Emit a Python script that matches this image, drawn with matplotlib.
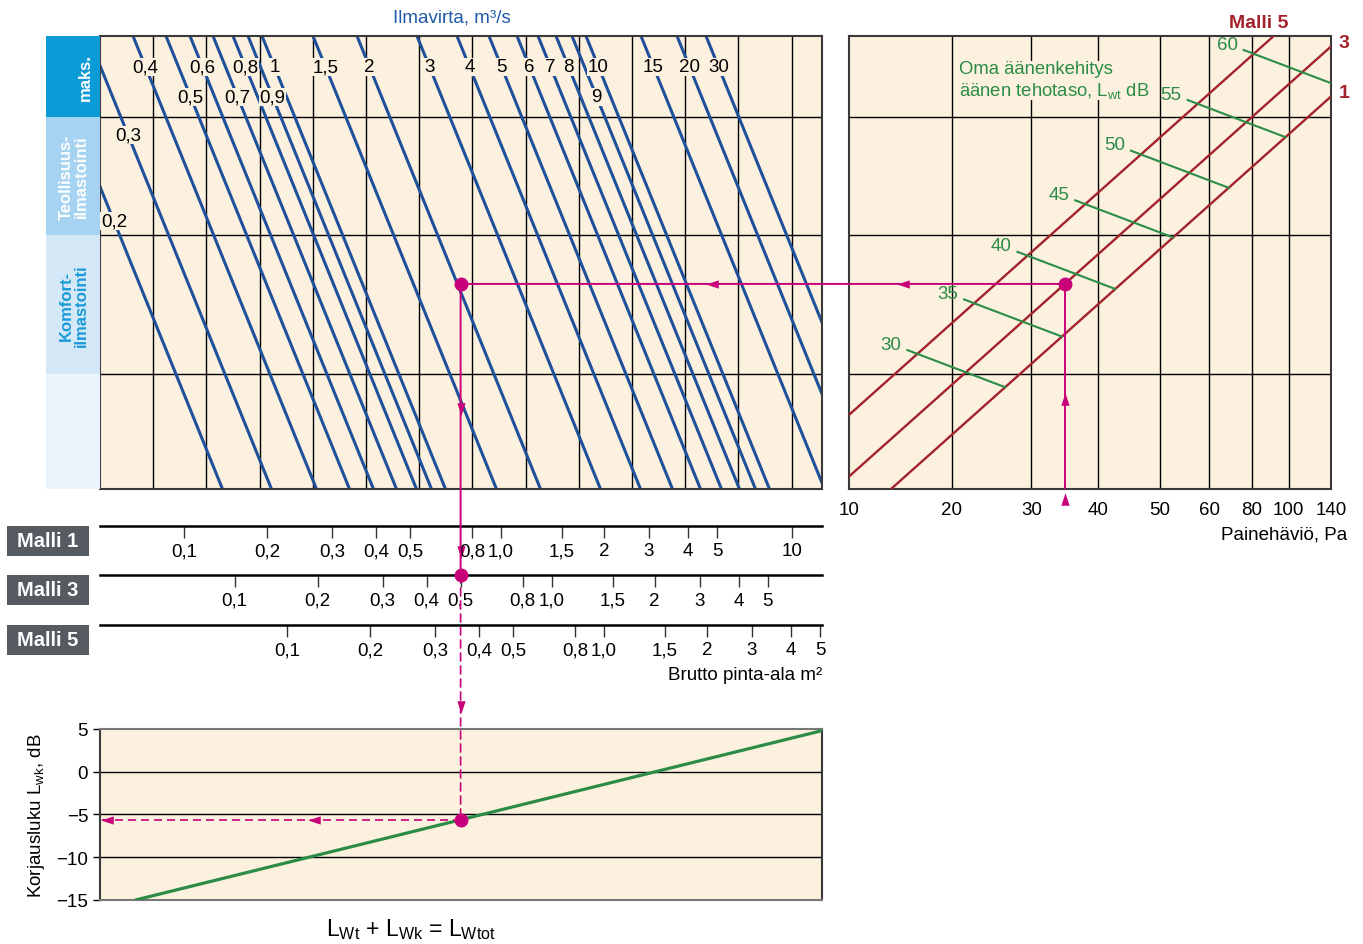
"""Nomogram: ilmavirta, painehäviö ja äänitaso (ritilä / säleikkö)"""

import numpy as np
import matplotlib
matplotlib.use('Agg')
import matplotlib.pyplot as plt
from matplotlib import font_manager
from matplotlib.patches import Rectangle, ConnectionPatch

# ---------------------------------------------------------------------------
# values (positions are in the nomogram's own scale units)
# ---------------------------------------------------------------------------
# airflow lines, m3/s, and where each line meets the top edge of the panel
q_labels = ['0,2', '0,3', '0,4', '0,5', '0,6', '0,7', '0,8', '0,9', '1', '1,5', '2',
            '3', '4', '5', '6', '7', '8', '9', '10', '15', '20', '30']
q_top = [-61, -12, 33, 66, 90, 113, 133, 148, 162, 213, 257,
         317, 357, 389, 417, 438, 456, 472, 486, 541, 577, 606]

# velocity rows of the diagram (bottom -> top)
row_edges = [0, 115, 254, 372, 453]
row_names = ['', 'Komfort-\nilmastointi', 'Teollisuus-\nilmastointi', 'maks.']

# gross area scales (m2); Malli 3 and 5 are the Malli 1 scale moved right
area_labels = ['0,1', '0,2', '0,3', '0,4', '0,5', '0,8', '1,0', '1,5', '2', '3', '4', '5', '10']
area_pos_malli1 = [84, 167, 232, 276, 310, 372, 401, 462, 504, 549, 588, 617, 692]
malli_names = ['Malli 1', 'Malli 3', 'Malli 5']
malli_shift = [0, 50.6, 103]
malli_n_ticks = [13, 12, 12]

# pressure drop scale, Pa
dp_ticks = [10, 20, 30, 40, 50, 60, 80, 100, 140]
dp_pos = [0, 102.7, 182.3, 249, 310.3, 360, 402.7, 439.3, 481.5]
dp_line_names = ['5', '3', '1']
dp_line_x0 = [-83, -14, 42]          # where each Malli line meets the bottom edge

# own sound power level L_wt, dB, and where each line ends on the Malli 1 line
lwt_levels = [30, 35, 40, 45, 50, 55, 60]
lwt_end = [156, 212.7, 266, 323.7, 379.3, 436, 492]

# correction L_wk, dB
lwk_pos = [36.7, 728.6]
lwk_db = [-15, 5]

# worked example: 35 Pa, Malli 3, 0,5 m2
ex_dp = 35
ex_malli = 1
ex_area = '0,5'

# geometry of the families of lines
Q_SLANT = 0.405
DP_SLOPE = 0.893
LWT_SLOPE = -0.38
LWT_LEN = 97.7

# ---------------------------------------------------------------------------
installed = {f.name for f in font_manager.fontManager.ttflist}
FONT = 'Liberation Sans Narrow' if 'Liberation Sans Narrow' in installed else 'Liberation Sans'
plt.rcParams['font.family'] = [FONT, 'DejaVu Sans']
plt.rcParams['mathtext.fontset'] = 'custom'
plt.rcParams['mathtext.rm'] = FONT
plt.rcParams['mathtext.it'] = FONT + ':italic'
plt.rcParams['mathtext.bf'] = FONT + ':bold'

FS = 13.5
BG = '#fcf1de'
BLUE = '#1e509b'
TITLE_BLUE = '#1f5aa8'
RED = '#a3222b'
GREEN = '#2b8c46'
PINK = '#c8007a'
BADGE = '#555b61'
FRAME = '#3a3a3a'

W, H = 1363, 945
fig = plt.figure(figsize=(W / 100, H / 100), dpi=100)


def place(x0, y0, x1, y1):
    return fig.add_axes([x0 / W, 1 - y1 / H, (x1 - x0) / W, (y1 - y0) / H])


def panel(ax):
    ax.set_facecolor(BG)
    for s in ax.spines.values():
        s.set_color(FRAME)
        s.set_linewidth(1.5)


def arrow(ax, x, y, way):
    shapes = {'down': [(-0.33, 0.5), (0.33, 0.5), (0, -0.5)],
              'up': [(-0.33, -0.5), (0.33, -0.5), (0, 0.5)],
              'left': [(0.5, -0.33), (0.5, 0.33), (-0.5, 0)]}
    ax.plot([x], [y], marker=shapes[way], ms=9, color=PINK, mec='none',
            clip_on=False, zorder=8)


# ---- airflow panel --------------------------------------------------------
ax_q = place(100, 37, 822, 490)
panel(ax_q)
ax_q.set_xlim(0, 722)
ax_q.set_ylim(0, 453)
ax_q.set_xticks([])
ax_q.set_yticks([])
for x in np.arange(1, 14) * 53.2:
    ax_q.axvline(x, color='k', lw=1.0, zorder=1)
for y in row_edges[1:-1]:
    ax_q.axhline(y, color='k', lw=1.0, zorder=1)

low_row = {'0,5': 392, '0,7': 392, '0,9': 392, '9': 392, '0,3': 354, '0,2': 268}
for lab, t in zip(q_labels, q_top):
    ax_q.plot([t, t + Q_SLANT * 453], [453, 0], color=BLUE, lw=2.2, zorder=2,
              solid_capstyle='butt')
    y = low_row.get(lab, 422)
    ax_q.text(t + Q_SLANT * (453 - y), y, lab, ha='center', va='center', fontsize=FS,
              zorder=3, bbox=dict(fc=BG, ec='none', pad=0.6))

fig.text(452 / W, 1 - 18 / H, 'Ilmavirta, m³/s', color=TITLE_BLUE, fontsize=FS,
         ha='center', va='center')

# ---- side band ------------------------------------------------------------
ax_b = place(46, 37, 100, 490)
ax_b.set_xlim(0, 1)
ax_b.set_ylim(0, 453)
ax_b.axis('off')
band_colors = ['#e9f4fd', '#d4e8f8', '#a6d3f1', '#0b9bd7']
band_text = [None, '#1a9ad7', 'white', 'white']
for i, name in enumerate(row_names):
    ax_b.axhspan(row_edges[i], row_edges[i + 1], color=band_colors[i], lw=0)
    if name:
        ax_b.text(0.72 if i == 3 else 0.51, (row_edges[i] + row_edges[i + 1]) / 2, name,
                  rotation=90, ha='center', va='center', color=band_text[i],
                  fontsize=12, weight='bold', linespacing=1.0)

# ---- pressure drop panel --------------------------------------------------
ax_p = place(849, 37, 1331, 490)
panel(ax_p)
ax_p.set_xlim(0, 481.5)
ax_p.set_ylim(0, 453)
ax_p.set_xticks(dp_pos)
ax_p.set_xticklabels([str(v) for v in dp_ticks])
ax_p.set_yticks([])
ax_p.tick_params(axis='x', length=0, pad=9, labelsize=FS)
for x in dp_pos[1:-1]:
    ax_p.axvline(x, color='k', lw=1.0, zorder=1)
for y in row_edges[1:-1]:
    ax_p.axhline(y, color='k', lw=1.0, zorder=1)

for name, x0 in zip(dp_line_names, dp_line_x0):
    ax_p.plot([x0, x0 + 453 / DP_SLOPE], [0, 453], color=RED, lw=1.7, zorder=3)
    if name == '5':
        ax_p.text(x0 + 453 / DP_SLOPE - 15, 466, 'Malli 5', color=RED, weight='bold',
                  fontsize=14, ha='center', va='center', clip_on=False)
    else:
        y_edge = (481.5 - x0) * DP_SLOPE
        ax_p.text(489, y_edge + 4, name, color=RED, weight='bold', fontsize=14,
                  ha='left', va='center', clip_on=False)

x_m1 = dp_line_x0[2]
for lev, xe in zip(lwt_levels, lwt_end):
    ye = (xe - x_m1) * DP_SLOPE
    xs = xe - LWT_LEN
    ys = ye - LWT_SLOPE * LWT_LEN
    ax_p.plot([xs, xe], [ys, ye], color=GREEN, lw=1.5, zorder=4)
    ax_p.text(xs - 6, ys + 6, str(lev), color=GREEN, fontsize=FS, ha='right',
              va='center', zorder=6)

ax_p.text(110, 409, 'Oma äänenkehitys\näänen tehotaso, L$_{\\rm wt}$ dB', color=GREEN,
          fontsize=13.3, ha='left', va='center', linespacing=1.2, zorder=5,
          bbox=dict(fc=BG, ec='none', pad=0.2))
fig.text(1347 / W, 1 - 535 / H, 'Painehäviö, Pa', fontsize=FS, ha='right', va='center')

# ---- area scales ----------------------------------------------------------
malli_axes = []
for name, shift, n, yline in zip(malli_names, malli_shift, malli_n_ticks, [526.5, 576, 625.5]):
    ax_m = place(100, yline - 1, 822, yline)
    ax_m.set_xlim(0, 722)
    ax_m.set_ylim(0, 1)
    ax_m.patch.set_visible(False)
    for side in ['top', 'left', 'right']:
        ax_m.spines[side].set_visible(False)
    ax_m.spines['bottom'].set_linewidth(1.8)
    ax_m.set_xticks(np.array(area_pos_malli1[:n]) + shift)
    ax_m.set_xticklabels(area_labels[:n])
    ax_m.set_yticks([])
    ax_m.tick_params(axis='x', length=8.6, width=1.0, pad=3.5, labelsize=FS, color='#333333')
    fig.add_artist(Rectangle((7 / W, 1 - (yline + 30) / H), 82 / W, 30 / H,
                             transform=fig.transFigure, color=BADGE, lw=0))
    fig.text(48 / W, 1 - (yline + 15) / H, name, color='white', weight='bold',
             fontsize=14.5, ha='center', va='center')
    malli_axes.append(ax_m)

fig.text(822 / W, 1 - 676 / H, 'Brutto pinta-ala m²', fontsize=FS, ha='right', va='center')

# ---- correction panel -----------------------------------------------------
ax_k = place(100, 730, 822, 900.7)
panel(ax_k)
ax_k.spines['top'].set_color('#777777')
ax_k.spines['bottom'].set_color('#777777')
ax_k.set_xlim(0, 722)
ax_k.set_ylim(-15, 5)
ax_k.set_xticks([])
ax_k.set_yticks([5, 0, -5, -10, -15])
ax_k.tick_params(axis='y', length=5, width=1.0, pad=3.5, labelsize=FS)
for y in [0, -5, -10]:
    ax_k.axhline(y, color='k', lw=1.0, zorder=1)
ax_k.plot(lwk_pos, lwk_db, color=GREEN, lw=2.3, zorder=3)

fig.text(37 / W, 1 - 816 / H, 'Korjausluku L$_{\\rm wk}$, dB', rotation=90, fontsize=FS,
         ha='center', va='center')
fig.text(411 / W, 1 - 930 / H, 'L$_{\\rm Wt}$ + L$_{\\rm Wk}$ = L$_{\\rm Wtot}$',
         fontsize=16.5, ha='center', va='center')

# ---- worked example -------------------------------------------------------
x_dp = np.interp(ex_dp, dp_ticks, dp_pos)
y_dp = (x_dp - dp_line_x0[ex_malli]) * DP_SLOPE
x_ex = area_pos_malli1[area_labels.index(ex_area)] + malli_shift[ex_malli]
y_k = np.interp(x_ex, lwk_pos, lwk_db)
dash = (0, (4.8, 3))

ax_p.plot([x_dp, x_dp], [y_dp, 0], color=PINK, lw=1.4, zorder=7)
ax_p.plot([x_dp], [y_dp], 'o', ms=9, color=PINK, zorder=8)
arrow(ax_p, x_dp, 90, 'up')
arrow(ax_p, x_dp, -10, 'up')
arrow(ax_p, 54, y_dp, 'left')

fig.add_artist(ConnectionPatch((x_dp, y_dp), (x_ex, y_dp), ax_p.transData, ax_q.transData,
                               color=PINK, lw=1.4, zorder=6))
ax_q.plot([x_ex], [y_dp], 'o', ms=9, color=PINK, zorder=8)
arrow(ax_q, 612, y_dp, 'left')
arrow(ax_q, x_ex, 80, 'down')
arrow(ax_q, x_ex, -63, 'down')

ax_m3 = malli_axes[ex_malli]
fig.add_artist(ConnectionPatch((x_ex, y_dp), (x_ex, 0), ax_q.transData, ax_m3.transData,
                               color=PINK, lw=1.4, zorder=6))
ax_m3.plot([x_ex], [0], 'o', ms=9, color=PINK, clip_on=False, zorder=8)

fig.add_artist(ConnectionPatch((x_ex, 0), (x_ex, y_k), ax_m3.transData, ax_k.transData,
                               color=PINK, lw=1.2, ls=dash, zorder=6))
arrow(ax_k, x_ex, 7.6, 'down')
ax_k.plot([x_ex, 0], [y_k, y_k], color=PINK, lw=1.2, ls=dash, zorder=7)
ax_k.plot([x_ex], [y_k], 'o', ms=9, color=PINK, zorder=8)
arrow(ax_k, 7, y_k, 'left')
arrow(ax_k, 214, y_k, 'left')

fig.savefig('out.png', dpi=100)
